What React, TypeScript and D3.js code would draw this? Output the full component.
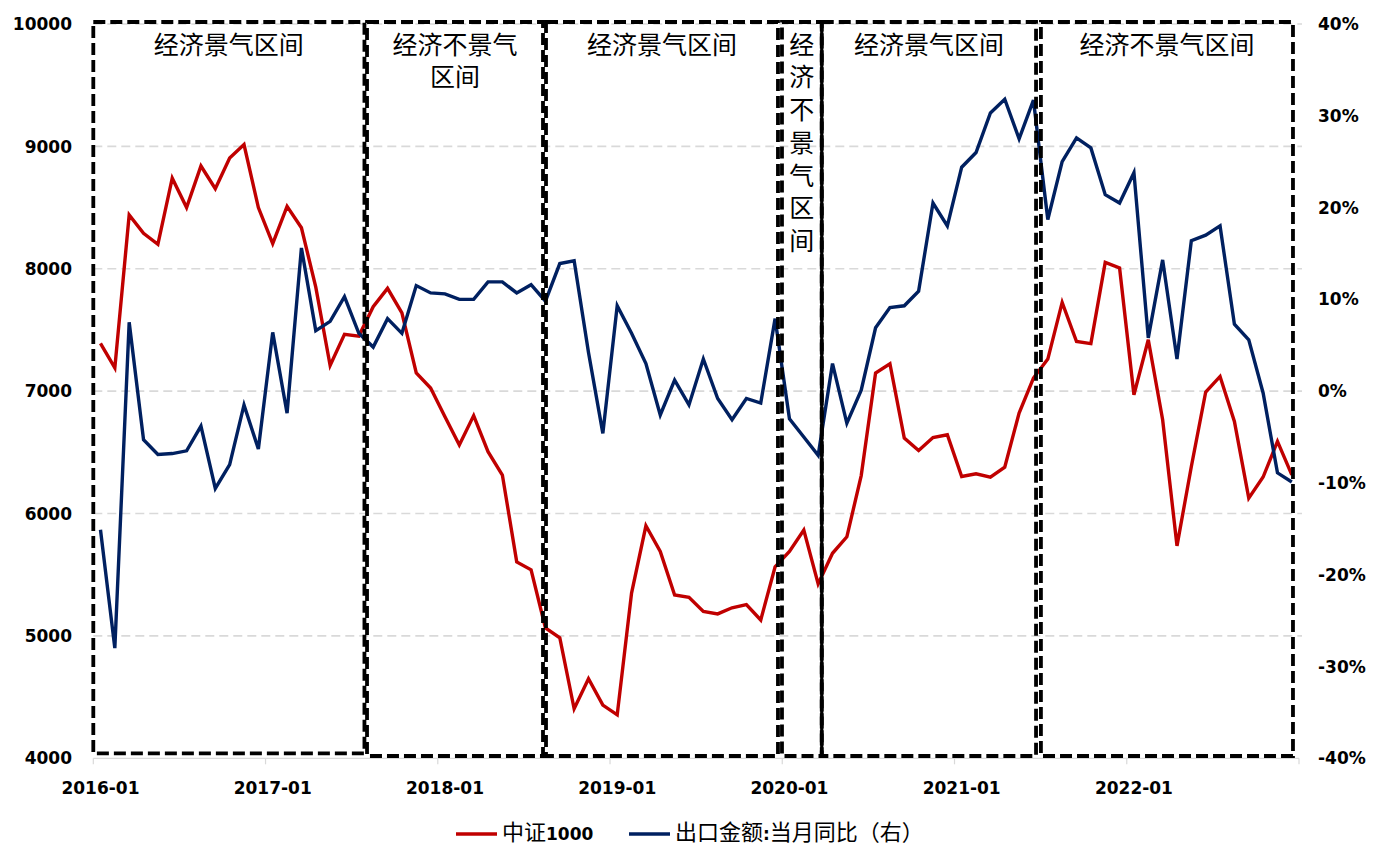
import React from "react";
import * as d3 from "d3";

// ---- categories (monthly) ----
const months: string[] = d3
  .timeMonth.range(new Date(2016, 0, 1), new Date(2023, 0, 1))
  .map(d3.timeFormat("%Y-%m"));

// ---- series: 中证1000 (left axis) ----
const csi1000: number[] = [
  7390, 7190, 8440, 8290, 8200, 8740, 8500, 8840, 8655, 8905, 9015, 8500,
  8205, 8510, 8335, 7850, 7210, 7465, 7450, 7690, 7840, 7640, 7150, 7025,
  6790, 6560, 6800, 6505, 6315, 5605, 5540, 5065, 4985, 4405, 4650, 4435,
  4355, 5350, 5900, 5690, 5335, 5315, 5200, 5180, 5230, 5255, 5130, 5565,
  5690, 5865, 5425, 5675, 5810, 6310, 7148, 7224, 6616, 6515, 6621, 6644,
  6303, 6325, 6298, 6379, 6821, 7107, 7262, 7725, 7406, 7388, 8052, 8006,
  6971, 7420, 6766, 5736, 6384, 6993, 7120, 6752, 6126, 6298, 6589, 6316,
];

// ---- series: 出口金额:当月同比 (right axis, %) ----
const exportYoY: number[] = [
  -15.1, -28.0, 7.5, -5.3, -6.9, -6.8, -6.5, -3.8, -10.6, -8.0, -1.5, -6.3,
  6.4, -2.4, 15.6, 6.6, 7.6, 10.3, 6.3, 4.8, 7.9, 6.3, 11.5, 10.7,
  10.6, 10.0, 10.0, 11.9, 11.9, 10.7, 11.6, 9.8, 13.9, 14.2, 4.2, -4.6,
  9.3, 6.3, 3.0, -2.6, 1.2, -1.5, 3.5, -0.8, -3.1, -0.8, -1.3, 7.9,
  -3.0, -5.0, -7.0, 3.0, -3.5, 0.1, 6.9, 9.1, 9.3, 10.9, 20.5, 18.0,
  24.4, 26.0, 30.3, 31.8, 27.5, 31.7, 18.7, 25.0, 27.6, 26.5, 21.4, 20.5,
  23.8, 5.8, 14.3, 3.5, 16.4, 17.0, 18.0, 7.3, 5.6, -0.2, -8.9, -9.9,
];

const seriesNames = ["中证1000", "出口金额:当月同比（右）"];

// ---- axes ----
const leftTicks = [4000, 5000, 6000, 7000, 8000, 9000, 10000];
const rightTicks = [-40, -30, -20, -10, 0, 10, 20, 30, 40];

// ---- regime annotations (in month-index units) ----
const regimeStart = [0, 19.07, 31.54, 47.98, 50.75, 66.02];
const regimeEnd = [18.89, 31.33, 47.7, 50.75, 65.68, 83.58];
const regimeLines: string[][] = [
  ["经济景气区间"],
  ["经济不景气", "区间"],
  ["经济景气区间"],
  ["经", "济", "不", "景", "气", "区", "间"],
  ["经济景气区间"],
  ["经济不景气区间"],
];
const dividerAt = 50.75;

const RED = "#C00000";
const NAVY = "#002060";
const NUM_FONT = "'DejaVu Sans', sans-serif";
const CJK_FONT = "'Noto Sans CJK SC', sans-serif";

export default function App() {
  const W = 1382;
  const H = 867;
  const plotLeft = 93.3;
  const plotRight = 1299;
  const plotTop = 24;
  const plotBottom = 758.3;

  const x = d3.scaleLinear().domain([0, months.length]).range([plotLeft, plotRight]);
  const yL = d3.scaleLinear().domain([4000, 10000]).range([plotBottom, plotTop]);
  const yR = d3.scaleLinear().domain([-40, 40]).range([plotBottom, plotTop]);

  const lineL = d3
    .line<number>()
    .x((_, i) => x(i + 0.5))
    .y((d) => yL(d));
  const lineR = d3
    .line<number>()
    .x((_, i) => x(i + 0.5))
    .y((d) => yR(d));

  const janIdx = months.map((m, i) => (m.endsWith("-01") ? i : -1)).filter((i) => i >= 0);
  const tickBounds = [...janIdx, months.length];

  const boxTop = plotTop - 2;
  const lineGap = 32.7;

  return (
    <svg
      width={W}
      height={H}
      style={{ position: "absolute", left: 0, top: 0, background: "#fff" }}
    >
      {/* gridlines */}
      {leftTicks.slice(1).map((t) => (
        <line
          key={"g" + t}
          x1={plotLeft}
          x2={plotRight + 3}
          y1={yL(t)}
          y2={yL(t)}
          stroke="#d9d9d9"
          strokeWidth={1.6}
          strokeDasharray="9,5"
        />
      ))}
      {/* x axis */}
      <line x1={plotLeft} x2={plotRight} y1={plotBottom} y2={plotBottom} stroke="#d9d9d9" strokeWidth={1.2} />
      {tickBounds.map((b) => (
        <line key={"t" + b} x1={x(b)} x2={x(b)} y1={plotBottom} y2={plotBottom + 6} stroke="#d9d9d9" strokeWidth={1.2} />
      ))}
      {janIdx.map((i) => (
        <text
          key={"xl" + i}
          x={x(i + 0.5)}
          y={794}
          textAnchor="middle"
          fontFamily={NUM_FONT}
          fontWeight="bold"
          fontSize={17}
          fill="#000"
        >
          {months[i]}
        </text>
      ))}
      {/* left tick labels */}
      {leftTicks.map((t) => (
        <text
          key={"yl" + t}
          x={72}
          y={yL(t)}
          dy="0.36em"
          textAnchor="end"
          fontFamily={NUM_FONT}
          fontWeight="bold"
          fontSize={17}
          fill="#000"
        >
          {t}
        </text>
      ))}
      {/* right tick labels */}
      {rightTicks.map((t) => (
        <text
          key={"yr" + t}
          x={1318}
          y={yR(t)}
          dy="0.36em"
          textAnchor="start"
          fontFamily={NUM_FONT}
          fontWeight="bold"
          fontSize={17}
          fill="#000"
        >
          {t + "%"}
        </text>
      ))}

      {/* series */}
      <path d={lineL(csi1000) || ""} fill="none" stroke={RED} strokeWidth={3.4} strokeLinejoin="miter" />
      <path d={lineR(exportYoY) || ""} fill="none" stroke={NAVY} strokeWidth={3.4} strokeLinejoin="miter" />

      {/* regime boxes */}
      {regimeStart.map((s, k) => {
        const x0 = x(s);
        const x1 = x(regimeEnd[k]);
        const bottom = k === 0 ? plotBottom - 5 : plotBottom - 2.3;
        return (
          <rect
            key={"box" + k}
            x={x0}
            y={boxTop}
            width={x1 - x0}
            height={bottom - boxTop}
            fill="none"
            stroke="#000"
            strokeWidth={3.8}
            strokeDasharray="12,5"
          />
        );
      })}
      {/* solid divider */}
      <line x1={x(dividerAt)} x2={x(dividerAt)} y1={boxTop - 1.5} y2={plotBottom - 0.5} stroke="#000" strokeWidth={3.2} />

      {/* regime labels */}
      {regimeLines.map((lines, k) => {
        const cx = (x(regimeStart[k]) + x(regimeEnd[k])) / 2;
        return lines.map((ln, j) => (
          <text
            key={"lab" + k + "-" + j}
            x={cx}
            y={45 + j * lineGap}
            dy="0.35em"
            textAnchor="middle"
            fontFamily={CJK_FONT}
            fontSize={25}
            fill="#000"
          >
            {ln}
          </text>
        ));
      })}

      {/* legend */}
      <line x1={456} x2={497} y1={834} y2={834} stroke={RED} strokeWidth={3.4} />
      <text x={502} y={834} dy="0.36em" fill="#000">
        <tspan fontFamily={CJK_FONT} fontSize={22}>
          {seriesNames[0].slice(0, 2)}
        </tspan>
        <tspan fontFamily={NUM_FONT} fontWeight="bold" fontSize={17}>
          {seriesNames[0].slice(2)}
        </tspan>
      </text>
      <line x1={629} x2={670} y1={834} y2={834} stroke={NAVY} strokeWidth={3.4} />
      <text x={675} y={834} dy="0.36em" fill="#000">
        <tspan fontFamily={CJK_FONT} fontSize={22}>
          {seriesNames[1].slice(0, 4)}
        </tspan>
        <tspan fontFamily={NUM_FONT} fontWeight="bold" fontSize={17}>
          {seriesNames[1].slice(4, 5)}
        </tspan>
        <tspan fontFamily={CJK_FONT} fontSize={22}>
          {seriesNames[1].slice(5)}
        </tspan>
      </text>
    </svg>
  );
}
